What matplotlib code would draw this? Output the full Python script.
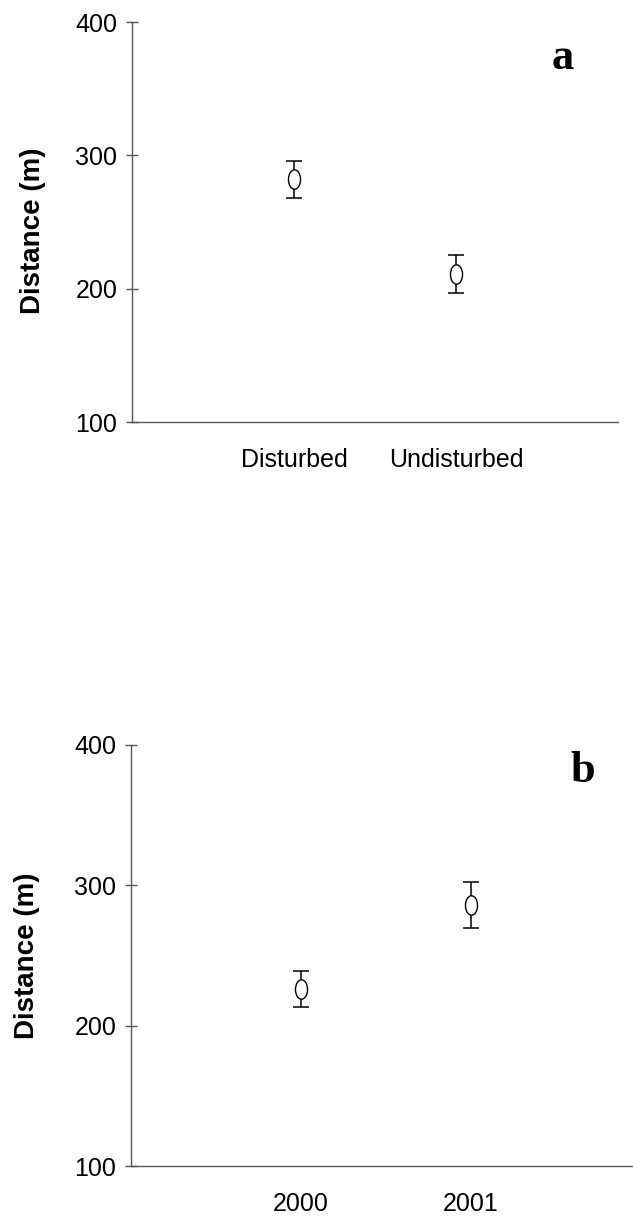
import matplotlib
matplotlib.use("Agg")
import matplotlib.pyplot as plt
from matplotlib.path import Path
from matplotlib.transforms import Affine2D

# panel a: site type
cats_a = ["Disturbed", "Undisturbed"]
mean_a = [282, 211]
err_a = [14, 14.5]

# panel b: year
cats_b = ["2000", "2001"]
mean_b = [226, 286]
err_b = [13, 16.5]

yticks = [100, 200, 300, 400]

plt.rcParams['font.family'] = ['Liberation Sans', 'DejaVu Sans']

# tall open ellipse like the original marker
ellipse = Path.unit_circle().transformed(Affine2D().scale(0.62, 1.0))

fig = plt.figure(figsize=(6.33, 12.2), dpi=100)
ax_a = fig.add_axes([132 / 633, 1 - 422 / 1220, 486 / 633, 400 / 1220])
ax_b = fig.add_axes([131 / 633, 1 - 1166 / 1220, 510 / 633, 421 / 1220])


def draw_panel(ax, cats, means, errs, letter, letter_xy, label_xy):
    xs = list(range(1, len(cats) + 1))
    ax.errorbar(xs, means, yerr=errs, fmt='none', ecolor='black',
                elinewidth=1.1, capsize=6, capthick=1.1)
    ax.plot(xs, means, linestyle='none', marker=ellipse, markersize=14,
            markerfacecolor='white', markeredgecolor='black',
            markeredgewidth=1.0, zorder=3)
    ax.set_xlim(0, 3)
    ax.set_ylim(100, 400)
    ax.set_yticks(yticks)
    ax.set_xticks(xs)
    ax.set_xticklabels(cats)
    for side in ('top', 'right'):
        ax.spines[side].set_visible(False)
    for side in ('left', 'bottom'):
        ax.spines[side].set_color('#555555')
        ax.spines[side].set_linewidth(1.0)
    ax.tick_params(axis='y', direction='inout', length=8, width=1.0,
                   color='#555555', labelsize=18, pad=6.5)
    ax.tick_params(axis='x', length=0, labelsize=18, pad=19)
    ax.set_ylabel("Distance (m)", fontsize=20, fontweight='bold')
    ax.yaxis.set_label_coords(*label_xy)
    ax.text(letter_xy[0], letter_xy[1], letter, transform=ax.transAxes,
            family='Liberation Serif', fontweight='bold', fontsize=32,
            ha='center', va='baseline')


draw_panel(ax_a, cats_a, mean_a, err_a, 'a', (0.887, 0.8825), (-0.176, 0.478))
draw_panel(ax_b, cats_b, mean_b, err_b, 'b', (0.886, 0.912), (-0.178, 0.5))

fig.savefig("out.png", dpi=100)
